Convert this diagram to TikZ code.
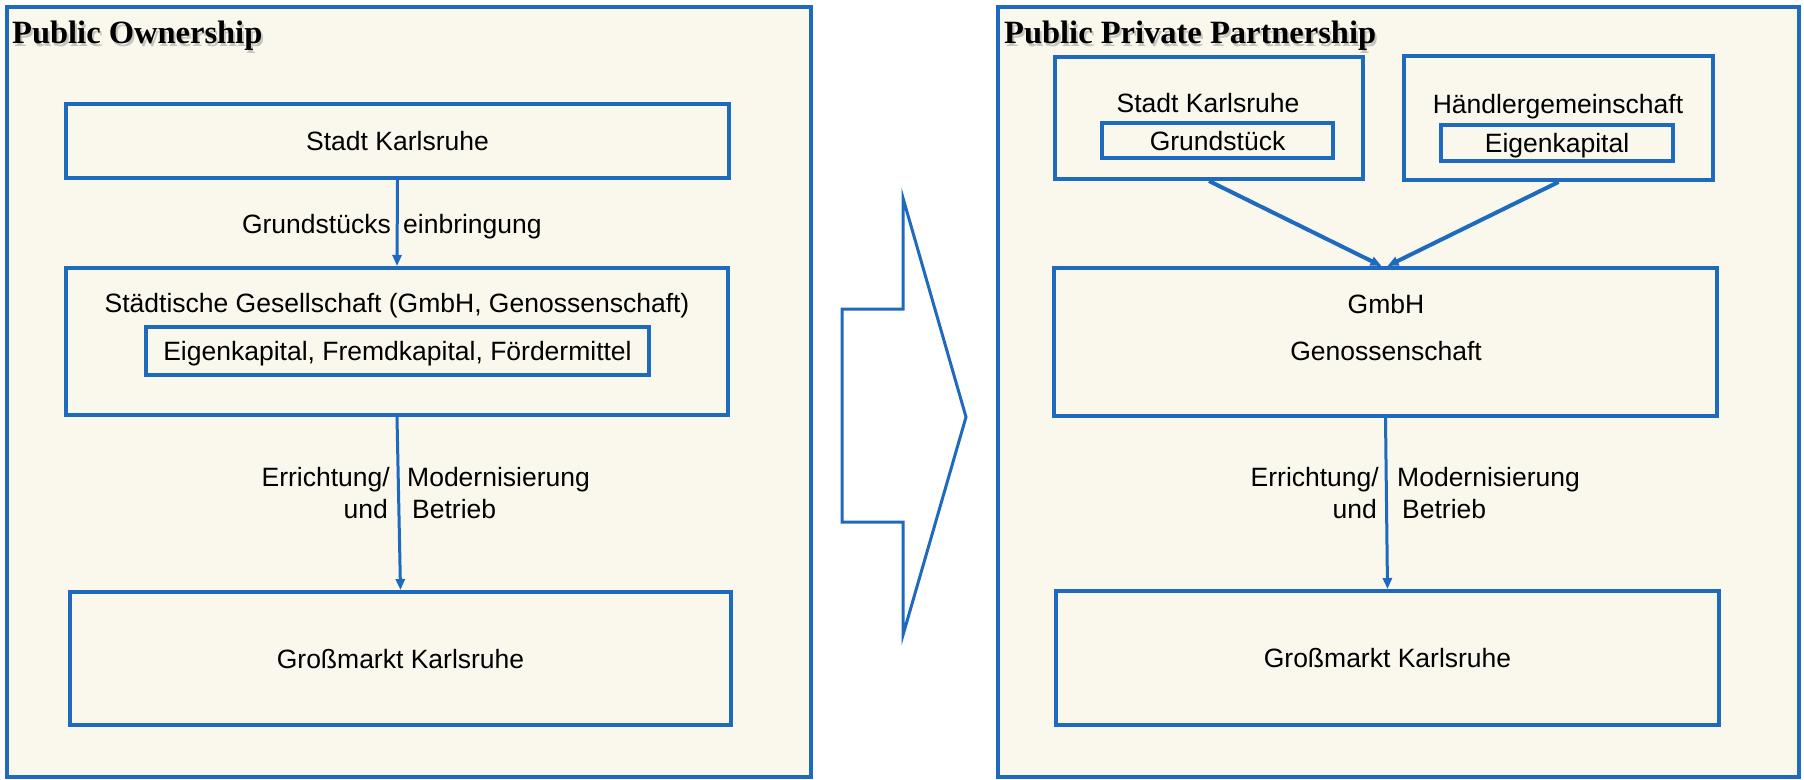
\documentclass[tikz,border=0pt]{standalone}
\usepackage{fontspec}
\setmainfont{Liberation Sans}
\newfontfamily\titlefont{Liberation Serif}
\usetikzlibrary{calc,arrows.meta,shadows}

\definecolor{lineblue}{RGB}{30,106,190}
\definecolor{panelcream}{RGB}{250,247,237}

\begin{document}
\begin{tikzpicture}[x=1pt,y=-1pt,
  panel/.style={draw=lineblue, line width=3.5pt, fill=panelcream},
  box/.style={draw=lineblue, line width=4pt, fill=panelcream, inner sep=0pt,
    text height=19pt, text depth=0pt,
    font=\fontsize{26.5}{32}\selectfont,
    drop shadow={shadow xshift=2pt, shadow yshift=-2pt, opacity=0.18}},
  innerbox/.style={box, line width=3.5pt},
  plain/.style={inner sep=0pt, text height=19pt, text depth=0pt,
    font=\fontsize{26.5}{32}\selectfont},
  paneltitle/.style={inner sep=0pt, anchor=base west,
    font=\titlefont\bfseries\fontsize{32.5}{38}\selectfont},
  titleshadow/.style={paneltitle, text=black!60, opacity=0.35},
  conn/.style={draw=lineblue, line width=3pt,
    -{Triangle[length=11pt,width=9pt]}},
  diag/.style={conn, line width=4pt},
  bigarrow/.style={draw=lineblue, line width=3pt, fill=white, line join=miter}
]
\useasboundingbox (0,0) rectangle (1804,779);

% ---------- left panel: public ownership ----------
\draw[panel] (7,7) rectangle (811,777);
\node[titleshadow] (titleLs) at (14,46) {Public Ownership};
\node[paneltitle] (titleL) at (12,43) {Public Ownership};

\node[box, minimum width=663pt, minimum height=74pt] (stadtL) at (397.5,141) {Stadt Karlsruhe};
\node[box, minimum width=662pt, minimum height=147pt] (staedt) at (397,341.5) {};
\node[plain] (staedtT) at (397,303) {Städtische Gesellschaft (GmbH, Genossenschaft)};
\node[innerbox, minimum width=503pt, minimum height=48pt] (kapL) at (397.5,351) {Eigenkapital, Fremdkapital, Fördermittel};
\node[box, minimum width=661pt, minimum height=133pt] (gmL) at (400.5,658.5) {Großmarkt Karlsruhe};

\draw[conn] (stadtL.south) -- (staedt.north);
\node[plain, anchor=east] (lblL1) at (391,224) {Grundstücks};
\node[plain, anchor=west] (lblL2) at (403,224) {einbringung};

\draw[conn] (staedt.south) -- (gmL.north);
\node[plain, anchor=east] (lblL3) at (390,477) {Errichtung/};
\node[plain, anchor=west] (lblL4) at (407,477) {Modernisierung};
\node[plain, anchor=east] (lblL5) at (388,509) {und};
\node[plain, anchor=west] (lblL6) at (412,509) {Betrieb};

% ---------- transition arrow ----------
\draw[bigarrow] (842,309) -- (903,309) -- (903,198) -- (966,417)
  -- (903,635) -- (903,522) -- (842,522) -- cycle;

% ---------- right panel: public private partnership ----------
\draw[panel] (998,7) rectangle (1799,777);
\node[titleshadow] (titleRs) at (1006,46) {Public Private Partnership};
\node[paneltitle] (titleR) at (1004,43) {Public Private Partnership};

\node[box, minimum width=308pt, minimum height=122pt] (stadtR) at (1209,118) {};
\node[plain] (stadtRT) at (1208,103) {Stadt Karlsruhe};
\node[innerbox, minimum width=231pt, minimum height=35pt] (grund) at (1217.5,140.5) {Grundstück};

\node[box, minimum width=309pt, minimum height=124pt] (haendler) at (1558.5,118) {};
\node[plain] (haendlerT) at (1558,104) {Händlergemeinschaft};
\node[innerbox, minimum width=232pt, minimum height=36pt] (eigen) at (1557,143) {Eigenkapital};

\node[box, minimum width=663pt, minimum height=148pt] (gmbh) at (1385.5,342) {};
\node[plain] (gmbhT) at (1386,304) {GmbH};
\node[plain] (geno) at (1386,351) {Genossenschaft};

\node[box, minimum width=663pt, minimum height=134pt] (gmR) at (1387.5,658) {Großmarkt Karlsruhe};

\draw[diag] (stadtR.south) -- ($(gmbh.north)+(-4,0)$);
\draw[diag] (haendler.south) -- ($(gmbh.north)+(2,0)$);

\draw[conn] (gmbh.south) -- (gmR.north);
\node[plain, anchor=east] (lblR1) at (1379,477) {Errichtung/};
\node[plain, anchor=west] (lblR2) at (1397,477) {Modernisierung};
\node[plain, anchor=east] (lblR3) at (1377,509) {und};
\node[plain, anchor=west] (lblR4) at (1402,509) {Betrieb};
\end{tikzpicture}
\end{document}
